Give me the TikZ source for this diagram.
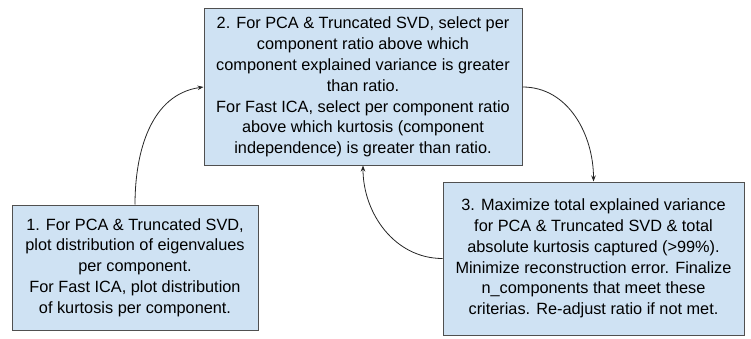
\documentclass[tikz,border=0pt]{standalone}
\usepackage{fontspec}
\setmainfont{Liberation Sans}
\usetikzlibrary{arrows.meta}
\definecolor{boxfill}{HTML}{CFE2F3}
\definecolor{boxline}{HTML}{505050}
\tikzset{
  stepbox/.style={draw=boxline, line width=1pt, fill=boxfill, align=center, inner sep=0pt,
    font=\fontsize{16.3}{20.8}\selectfont},
  link/.style={draw=black!85, line width=0.8pt, -{Stealth[length=6pt,width=4.5pt]}}
}
\begin{document}
\begin{tikzpicture}[x=1pt,y=1pt]
\useasboundingbox (0,0) rectangle (751,338);
\node[stepbox, minimum width=246pt, minimum height=125pt] (b1) at (135,70.5)
  {1. For PCA \& Truncated SVD,\\plot distribution of eigenvalues\\per component.\\For Fast ICA, plot distribution\\of kurtosis per component.};
\node[stepbox, minimum width=318pt, minimum height=156pt] (b2) at (363,251)
  {2. For PCA \& Truncated SVD, select per\\component ratio above which\\component explained variance is greater\\than ratio.\\For Fast ICA, select per component ratio\\above which kurtosis (component\\independence) is greater than ratio.};
\node[stepbox, minimum width=301pt, minimum height=153pt] (b3) at (593.5,79.5)
  {3. Maximize total explained variance\\for PCA \& Truncated SVD \& total\\absolute kurtosis captured (>99\%).\\Minimize reconstruction error. Finalize\\n\_components that meet these\\criterias. Re-adjust ratio if not met.};
\draw[link] (b1.north) to[out=90,in=188] (b2.west);
\draw[link] (b2.east) to[out=0,in=90] (b3.north);
\draw[link] (b3.west) to[out=180,in=-90] (b2.south);
\end{tikzpicture}
\end{document}
